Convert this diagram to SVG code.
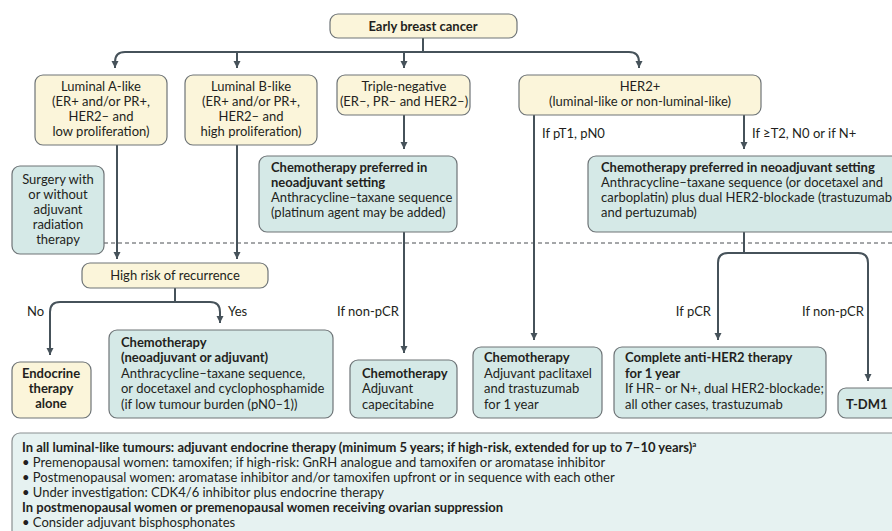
<svg xmlns="http://www.w3.org/2000/svg" width="892" height="531" viewBox="0 0 892 531">
  <style>
    text { font-family: Lato, "Liberation Sans", sans-serif; font-size: 13px; fill: #231f20; }
    .b { font-weight: bold; }
    .c { text-anchor: middle; }
    .e { text-anchor: end; }
    .sub { fill: #fbf5da; stroke: #6e7477; stroke-width: 1.2; }
    .tx { fill: #d5e9e7; stroke: #6e7477; stroke-width: 1.2; }
    .note { fill: #e6f2f1; stroke: #8a8f91; stroke-width: 1.2; }
    .wire { fill: none; stroke: #46525a; stroke-width: 2; }
    .dash { fill: none; stroke: #4a4f52; stroke-width: 1; stroke-dasharray: 4 3; }
  </style>
  <defs>
    <marker id="arrow" markerUnits="userSpaceOnUse" markerWidth="9" markerHeight="9" refX="7" refY="4" orient="auto">
      <path d="M0,0.5 L7,4 L0,7.5 z" fill="#46525a"/>
    </marker>
  </defs>
  <rect width="892" height="531" fill="#ffffff"/>

  <!-- boundary between neoadjuvant and adjuvant phases -->
  <line class="dash" x1="104" y1="243" x2="892" y2="243"/>

  <g id="connectors">
    <path class="wire" d="M423,38 V52"/>
    <path class="wire" d="M423,52 H125 Q115,52 115,62 V68" marker-end="url(#arrow)"/>
    <path class="wire" d="M423,52 H629 Q639,52 639,62 V68" marker-end="url(#arrow)"/>
    <path class="wire" d="M237,52 V68" marker-end="url(#arrow)"/>
    <path class="wire" d="M404,52 V68" marker-end="url(#arrow)"/>

    <path class="wire" d="M117,145 V259" marker-end="url(#arrow)"/>
    <path class="wire" d="M237,145 V259" marker-end="url(#arrow)"/>

    <path class="wire" d="M404,115 V149" marker-end="url(#arrow)"/>
    <path class="wire" d="M404,232 V353" marker-end="url(#arrow)"/>

    <path class="wire" d="M534,115 V340" marker-end="url(#arrow)"/>
    <path class="wire" d="M744,115 V149" marker-end="url(#arrow)"/>
    <path class="wire" d="M744,232 V253"/>
    <path class="wire" d="M744,253 H728 Q718,253 718,263 V340" marker-end="url(#arrow)"/>
    <path class="wire" d="M744,253 H858 Q868,253 868,263 V381" marker-end="url(#arrow)"/>

    <path class="wire" d="M175,288 V302"/>
    <path class="wire" d="M175,302 H60 Q50,302 50,312 V355" marker-end="url(#arrow)"/>
    <path class="wire" d="M175,302 H210 Q220,302 220,312 V323" marker-end="url(#arrow)"/>

    <text x="542" y="138">If pT1, pN0</text>
    <text x="752" y="138">If ≥T2, N0 or if N+</text>
    <text x="27" y="316">No</text>
    <text x="228" y="316">Yes</text>
    <text x="337" y="316">If non-pCR</text>
    <text class="e" x="711" y="316">If pCR</text>
    <text x="802" y="316">If non-pCR</text>
  </g>

  <g id="early-breast-cancer">
    <rect class="sub" x="330" y="14" width="187" height="24" rx="8"/>
    <text class="b c" x="423" y="31">Early breast cancer</text>
  </g>

  <g id="luminal-a">
    <rect class="sub" x="35" y="75" width="132" height="70" rx="8"/>
    <text class="c" x="101" y="91">Luminal A-like</text>
    <text class="c" x="101" y="106">(ER+ and/or PR+,</text>
    <text class="c" x="101" y="121">HER2–  and</text>
    <text class="c" x="101" y="136">low proliferation)</text>
  </g>

  <g id="luminal-b">
    <rect class="sub" x="185" y="75" width="132" height="70" rx="8"/>
    <text class="c" x="251" y="91">Luminal B-like</text>
    <text class="c" x="251" y="106">(ER+ and/or PR+,</text>
    <text class="c" x="251" y="121">HER2– and</text>
    <text class="c" x="251" y="136">high proliferation)</text>
  </g>

  <g id="triple-negative">
    <rect class="sub" x="337" y="75" width="133" height="40" rx="8"/>
    <text class="c" x="404" y="91">Triple-negative</text>
    <text class="c" x="404" y="106">(ER–, PR– and HER2–)</text>
  </g>

  <g id="her2-positive">
    <rect class="sub" x="519" y="75" width="242" height="40" rx="8"/>
    <text class="c" x="640" y="91">HER2+</text>
    <text class="c" x="640" y="106">(luminal-like or non-luminal-like)</text>
  </g>

  <g id="surgery">
    <rect class="tx" x="12" y="166" width="92" height="88" rx="8"/>
    <text class="c" x="58" y="184">Surgery with</text>
    <text class="c" x="58" y="199">or without</text>
    <text class="c" x="58" y="214">adjuvant</text>
    <text class="c" x="58" y="229">radiation</text>
    <text class="c" x="58" y="244">therapy</text>
  </g>

  <g id="tn-neoadjuvant">
    <rect class="tx" x="259" y="156" width="198" height="76" rx="8"/>
    <text class="b" x="271" y="172">Chemotherapy preferred in</text>
    <text class="b" x="271" y="187">neoadjuvant setting</text>
    <text x="271" y="202">Anthracycline–taxane sequence</text>
    <text x="271" y="217">(platinum agent may be added)</text>
  </g>

  <g id="her2-neoadjuvant">
    <rect class="tx" x="588" y="156" width="320" height="76" rx="8"/>
    <text class="b" x="601" y="172">Chemotherapy preferred in neoadjuvant setting</text>
    <text x="601" y="187">Anthracycline–taxane sequence (or docetaxel and</text>
    <text x="601" y="202">carboplatin) plus dual HER2-blockade (trastuzumab</text>
    <text x="601" y="217">and pertuzumab)</text>
  </g>

  <g id="high-risk">
    <rect class="sub" x="82" y="263" width="186" height="25" rx="8"/>
    <text class="c" x="175" y="280">High risk of recurrence</text>
  </g>

  <g id="endocrine-alone">
    <rect class="sub" x="12" y="362" width="79" height="56" rx="8"/>
    <text class="b c" x="51" y="378">Endocrine</text>
    <text class="b c" x="51" y="393">therapy</text>
    <text class="b c" x="51" y="408">alone</text>
  </g>

  <g id="luminal-chemo">
    <rect class="tx" x="109" y="330" width="224" height="88" rx="8"/>
    <text class="b" x="121" y="347">Chemotherapy</text>
    <text class="b" x="121" y="362">(neoadjuvant or adjuvant)</text>
    <text x="121" y="378">Anthracycline–taxane sequence,</text>
    <text x="121" y="393">or docetaxel and cyclophosphamide</text>
    <text x="121" y="409">(if low tumour burden (pN0–1))</text>
  </g>

  <g id="tn-adjuvant">
    <rect class="tx" x="350" y="360" width="107" height="58" rx="8"/>
    <text class="b" x="362" y="378">Chemotherapy</text>
    <text x="362" y="393">Adjuvant</text>
    <text x="362" y="409">capecitabine</text>
  </g>

  <g id="her2-low-stage">
    <rect class="tx" x="473" y="347" width="129" height="71" rx="8"/>
    <text class="b" x="484" y="362">Chemotherapy</text>
    <text x="484" y="378">Adjuvant paclitaxel</text>
    <text x="484" y="393">and trastuzumab</text>
    <text x="484" y="409">for 1 year</text>
  </g>

  <g id="her2-pcr">
    <rect class="tx" x="614" y="347" width="212" height="71" rx="8"/>
    <text class="b" x="625" y="362">Complete anti-HER2 therapy</text>
    <text class="b" x="625" y="378">for 1 year</text>
    <text x="625" y="393" font-size="12.2">If HR– or N+, dual HER2-blockade;</text>
    <text x="625" y="409">all other cases, trastuzumab</text>
  </g>

  <g id="t-dm1">
    <rect class="tx" x="838" y="388" width="70" height="30" rx="8"/>
    <text class="b" x="846" y="409">T-DM1</text>
  </g>

  <g id="endocrine-note">
    <rect class="note" x="12" y="433" width="900" height="110" rx="8"/>
    <text class="b" x="22" y="452" font-size="12.6">In all luminal-like tumours: adjuvant endocrine therapy (minimum 5 years; if high-risk, extended for up to 7–10 years)<tspan font-size="8" dy="-5">a</tspan></text>
    <text x="22" y="467">• Premenopausal women: tamoxifen; if high-risk: GnRH analogue and tamoxifen or aromatase inhibitor</text>
    <text x="22" y="482">• Postmenopausal women: aromatase inhibitor and/or tamoxifen upfront or in sequence with each other</text>
    <text x="22" y="497">• Under investigation: CDK4/6 inhibitor plus endocrine therapy</text>
    <text class="b" x="22" y="512">In postmenopausal women or premenopausal women receiving ovarian suppression</text>
    <text x="22" y="527">• Consider adjuvant bisphosphonates</text>
  </g>
</svg>
